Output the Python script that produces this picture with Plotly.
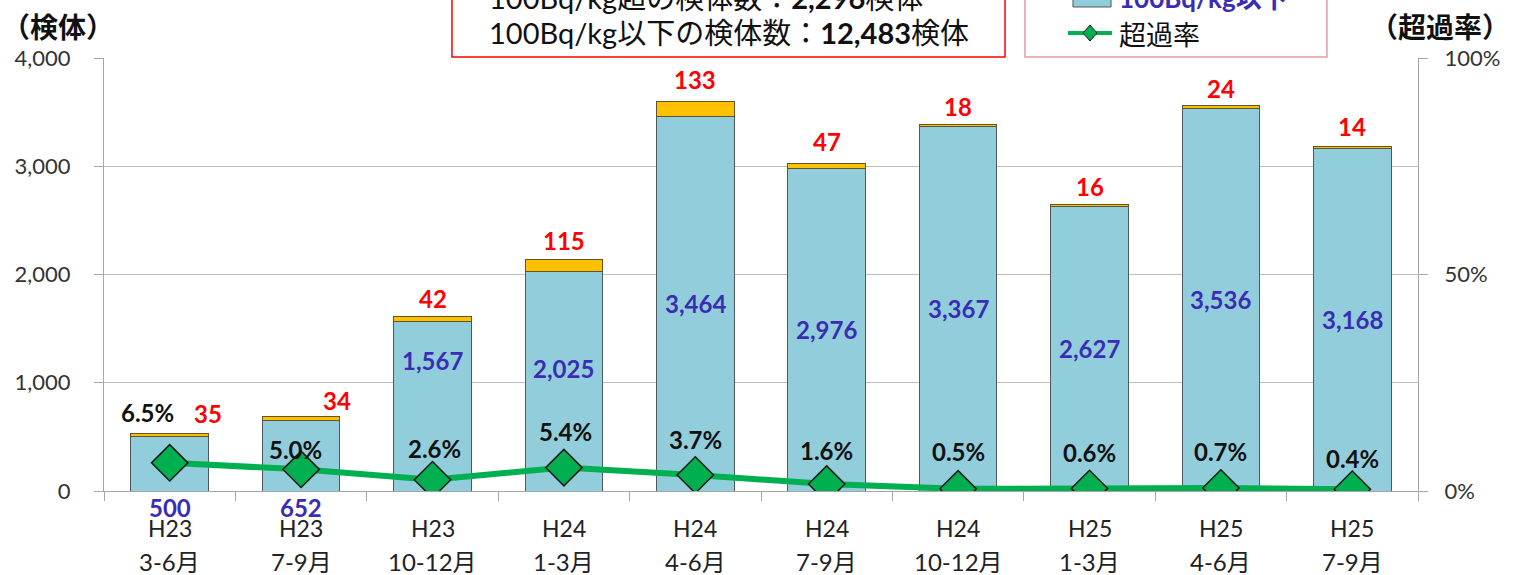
import plotly.graph_objects as go

# ---- data ----
years = ["H23", "H23", "H23", "H24", "H24", "H24", "H24", "H25", "H25", "H25"]
months = ["3-6月", "7-9月", "10-12月", "1-3月", "4-6月", "7-9月", "10-12月", "1-3月", "4-6月", "7-9月"]
under_100 = [500, 652, 1567, 2025, 3464, 2976, 3367, 2627, 3536, 3168]
over_100 = [35, 34, 42, 115, 133, 47, 18, 16, 24, 14]
rate_pct = [6.5, 5.0, 2.6, 5.4, 3.7, 1.6, 0.5, 0.6, 0.7, 0.4]
left_ticks = [0, 1000, 2000, 3000, 4000]
right_ticks = [0, 0.5, 1.0]
box_line1 = "100Bq/kg超の検体数：<b>2,296</b>検体"
box_line2 = "100Bq/kg以下の検体数：<b>12,483</b>検体"
legend_labels = ["100Bq/kg以下", "超過率"]

# ---- styling ----
FONT = "Lato, 'Noto Sans CJK JP', sans-serif"
JFONT = "'Noto Sans CJK JP', Lato, sans-serif"
BLUE_BAR = "#92CDDC"
YELLOW = "#FFC000"
GREEN = "#00B050"
RED = "#FF0000"
BLUE_TXT = "#3A2DB4"
GRID = "#BFBFBF"

cats = [f"{y} {m}" for y, m in zip(years, months)]
totals = [a + b for a, b in zip(under_100, over_100)]

# label offsets (pixels)
rate_shift = [(-22, 50), (-6, 20), (2, 31), (2, 36), (0, 35), (0, 34), (0, 37), (0, 36), (0, 36), (0, 31)]
red_shift = [(38, 20), (36, 16), (0, 18), (0, 19), (0, 22), (0, 22), (0, 18), (0, 18), (0, 17), (0, 20)]
blue_below = [True, True, False, False, False, False, False, False, False, False]
blue_extra = [0, 0, 46, 13, 0, 0, 0, 0, 0, 0]

fig = go.Figure()
fig.add_trace(go.Bar(x=cats, y=under_100, marker=dict(color=BLUE_BAR, line=dict(color="#4F5A5E", width=1)),
                     name=legend_labels[0], hoverinfo="skip"))
fig.add_trace(go.Bar(x=cats, y=over_100, marker=dict(color=YELLOW, line=dict(color="#5E5530", width=1)),
                     name="100Bq/kg超", hoverinfo="skip"))
fig.add_trace(go.Scatter(x=cats, y=[r / 100 for r in rate_pct], yaxis="y2", mode="lines+markers",
                         line=dict(color=GREEN, width=6),
                         marker=dict(symbol="diamond", size=28, color=GREEN, line=dict(color="#1a1a1a", width=1.5)),
                         name=legend_labels[1], hoverinfo="skip"))

ann = []
for i, c in enumerate(cats):
    ann.append(dict(x=c, y=totals[i], xref="x", yref="y", text=f"<b>{over_100[i]}</b>", showarrow=False,
                    yanchor="middle", xshift=red_shift[i][0], yshift=red_shift[i][1],
                    font=dict(family=FONT, size=24, color=RED)))
    if blue_below[i]:
        ann.append(dict(x=c, y=0, xref="x", yref="y", text=f"<b>{under_100[i]:,}</b>", showarrow=False,
                        yanchor="middle", yshift=-16, font=dict(family=FONT, size=24, color=BLUE_TXT)))
    else:
        ann.append(dict(x=c, y=under_100[i] / 2, xref="x", yref="y", text=f"<b>{under_100[i]:,}</b>",
                        showarrow=False, yanchor="middle", yshift=blue_extra[i],
                        font=dict(family=FONT, size=24, color=BLUE_TXT)))
    ann.append(dict(x=c, y=rate_pct[i] / 100, xref="x", yref="y2", text=f"<b>{rate_pct[i]:.1f}%</b>",
                    showarrow=False, yanchor="middle", xshift=rate_shift[i][0], yshift=rate_shift[i][1],
                    font=dict(family=FONT, size=24, color="#111")))
    ann.append(dict(x=c, y=0, xref="x", yref="paper", text=years[i], showarrow=False, yanchor="middle",
                    yshift=-37, font=dict(family=FONT, size=23, color="#222")))
    ann.append(dict(x=c, y=0, xref="x", yref="paper", text=months[i], showarrow=False, yanchor="middle",
                    yshift=-70, font=dict(family=FONT, size=24, color="#222")))

# axis unit titles
ann.append(dict(x=-0.0791, y=1.074, xref="paper", yref="paper", xanchor="left", yanchor="middle",
                text="<b>（検体）</b>", showarrow=False, font=dict(family=JFONT, size=28, color="#111")))
ann.append(dict(x=1.0715, y=1.074, xref="paper", yref="paper", xanchor="right", yanchor="middle",
                text="<b>（超過率）</b>", showarrow=False, font=dict(family=JFONT, size=28, color="#111")))

# info text box (top partly cut off)
ann.append(dict(x=0.2915, y=1.1386, xref="paper", yref="paper", xanchor="left", yanchor="middle",
                text=box_line1, showarrow=False, font=dict(family=FONT, size=29, color="#111")))
ann.append(dict(x=0.2915, y=1.060, xref="paper", yref="paper", xanchor="left", yanchor="middle",
                text=box_line2, showarrow=False, font=dict(family=FONT, size=29, color="#111")))

# legend box texts
ann.append(dict(x=0.771, y=1.1386, xref="paper", yref="paper", xanchor="left", yanchor="middle",
                text=f"<b>{legend_labels[0]}</b>", showarrow=False, font=dict(family=FONT, size=26, color=BLUE_TXT)))
ann.append(dict(x=0.771, y=1.0577, xref="paper", yref="paper", xanchor="left", yanchor="middle",
                text=legend_labels[1], showarrow=False, font=dict(family=JFONT, size=27, color="#111")))

shapes = [
    dict(type="rect", xref="paper", yref="paper", x0=0.2648, x1=0.6857, y0=1.0023, y1=1.2,
         line=dict(color=RED, width=1.5), fillcolor="white", layer="below"),
    dict(type="rect", xref="paper", yref="paper", x0=0.7009, x1=0.9307, y0=1.0023, y1=1.2,
         line=dict(color="#E39AA2", width=1.5), fillcolor="white", layer="below"),
    dict(type="rect", xref="paper", yref="paper", x0=0.7374, x1=0.7664, y0=1.1178, y1=1.2,
         line=dict(color="#4F5A5E", width=1), fillcolor=BLUE_BAR),
    dict(type="line", xref="paper", yref="paper", x0=0.7336, x1=0.7671, y0=1.0577, y1=1.0577,
         line=dict(color=GREEN, width=4)),
    dict(type="path", xref="paper", yref="paper",
         path="M 0.7504,1.0762 L 0.7557,1.0577 L 0.7504,1.0392 L 0.7451,1.0577 Z",
         fillcolor=GREEN, line=dict(color="#1a1a1a", width=1)),
]

fig.update_layout(
    width=1515, height=575,
    margin=dict(l=104, r=97, t=58, b=84),
    paper_bgcolor="white", plot_bgcolor="white",
    barmode="stack", bargap=0.41,
    showlegend=False,
    font=dict(family=FONT, size=22, color="#333"),
    annotations=ann, shapes=shapes,
    xaxis=dict(type="category", showticklabels=False, ticks="outside", tickson="boundaries", ticklen=9,
               tickcolor="#A6A6A6", showline=True, linecolor="#A6A6A6", linewidth=1, showgrid=False,
               range=[-0.5, 9.5]),
    yaxis=dict(range=[0, 4000], tickvals=left_ticks, tickformat=",d", showgrid=True, gridcolor=GRID,
               gridwidth=1, ticks="outside", ticklen=9, tickcolor="#A6A6A6", showline=True,
               linecolor="#A6A6A6", zeroline=False, tickfont=dict(family=FONT, size=22, color="#333"),
               ticklabelstandoff=19),
    yaxis2=dict(range=[0, 1], overlaying="y", side="right", tickvals=right_ticks, tickformat=".0%",
                showgrid=False, zeroline=False, ticks="outside", ticklen=9, tickcolor="#A6A6A6",
                showline=True, linecolor="#A6A6A6", tickfont=dict(family=FONT, size=22, color="#333"),
                ticklabelstandoff=12),
)

fig.write_html("out.html", config={"displayModeBar": False},
               post_script="document.body.style.margin='0px';document.body.style.overflow='hidden';")
